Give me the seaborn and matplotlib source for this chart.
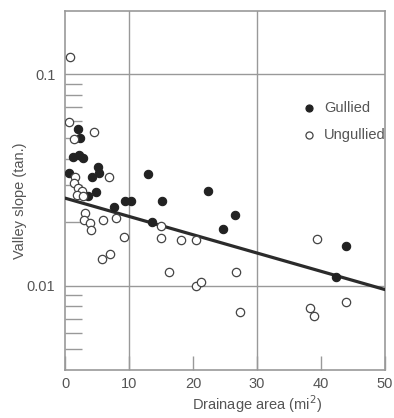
import numpy as np
import pandas as pd
import seaborn as sns
import matplotlib.pyplot as plt

# Valores (área de drenagem em mi², declividade do vale)
gullied_area = [2.0, 2.3, 1.25, 2.2, 2.8, 0.6, 5.2, 4.2, 5.3, 13.0, 3.6, 4.8,
                7.7, 9.4, 10.3, 15.2, 13.6, 22.3, 26.6, 24.7, 43.9, 42.3]
gullied_slope = [0.0555, 0.0499, 0.0407, 0.0416, 0.0403, 0.0343, 0.0366, 0.0328,
                 0.0343, 0.0339, 0.0265, 0.0277, 0.0236, 0.0251, 0.0251, 0.0251,
                 0.0200, 0.0280, 0.0216, 0.0186, 0.0155, 0.0110]

ungullied_area = [0.8, 0.6, 4.5, 1.4, 1.6, 6.9, 1.4, 2.0, 2.7, 1.9, 2.8, 3.1,
                  3.0, 3.9, 4.1, 5.9, 8.0, 9.2, 5.8, 7.0, 15.0, 15.0, 18.1,
                  20.5, 16.3, 20.5, 21.3, 26.7, 27.3, 39.4, 38.3, 38.9, 43.9]
ungullied_slope = [0.121, 0.0598, 0.0537, 0.0493, 0.0328, 0.0328, 0.0305, 0.0289,
                   0.0280, 0.0268, 0.0265, 0.0221, 0.0205, 0.0199, 0.0184, 0.0205,
                   0.0209, 0.0171, 0.0134, 0.0142, 0.0192, 0.0169, 0.0164, 0.0164,
                   0.0116, 0.0100, 0.0104, 0.0116, 0.00749, 0.0166, 0.00782,
                   0.00718, 0.00843]

# Reta de ajuste (extremos)
fit_area = [0, 50]
fit_slope = [0.026, 0.0096]

x_ticks = [0, 10, 20, 30, 40, 50]
x_grid = [10, 30]
y_ticks = [0.01, 0.1]
y_labels = ["0.01", "0.1"]
y_minor = [0.005, 0.006, 0.007, 0.008, 0.009,
           0.02, 0.03, 0.04, 0.05, 0.06, 0.07, 0.08, 0.09]

gully = pd.DataFrame({"area": gullied_area, "slope": gullied_slope})
ungully = pd.DataFrame({"area": ungullied_area, "slope": ungullied_slope})
fit = pd.DataFrame({"area": fit_area, "slope": fit_slope})

sns.set_style("white")
plt.rcParams["font.family"] = ["Liberation Sans", "DejaVu Sans"]

gray = "#999999"
text_c = "#555555"

fig = plt.figure(figsize=(3.94, 4.18), dpi=100)
ax = fig.add_axes([0.165, 0.115, 0.812, 0.859])
ax.set_yscale("log")

sns.lineplot(data=fit, x="area", y="slope", ax=ax, color="#2b2b2b", lw=2.3,
             zorder=3)
sns.scatterplot(data=gully, x="area", y="slope", ax=ax, s=36, color="#222222",
                edgecolor="#222222", linewidth=0.8, label="Gullied", zorder=4)
sns.scatterplot(data=ungully, x="area", y="slope", ax=ax, s=36,
                facecolor="white", edgecolor="#444444", linewidth=0.9,
                label="Ungullied", zorder=4)

ax.set_xlim(0, 50)
ax.set_ylim(0.004, 0.2)

# eixos e grade
ax.xaxis.remove_overlapping_locs = False
ax.set_xticks(x_ticks)
ax.set_xticks(x_grid, minor=True)
ax.set_yticks(y_ticks)
ax.set_yticklabels(y_labels)
ax.set_yticks(y_minor, minor=True)
ax.yaxis.set_minor_formatter(plt.NullFormatter())
ax.tick_params(axis="x", which="major", direction="in", length=10, width=1,
               color=gray, labelsize=10.5, labelcolor=text_c, pad=5,
               bottom=True)
ax.tick_params(axis="x", which="minor", length=0, bottom=True)
ax.tick_params(axis="y", which="major", direction="in", length=0,
               labelsize=10.5, labelcolor=text_c, pad=7, left=True)
ax.tick_params(axis="y", which="minor", direction="in", length=12, width=1,
               color=gray, left=True)
ax.grid(False)
ax.xaxis.grid(True, which="minor", color=gray, lw=1)
ax.yaxis.grid(True, which="major", color=gray, lw=1)
for sp in ax.spines.values():
    sp.set_color(gray)
    sp.set_linewidth(1.2)

ax.set_xlabel("Drainage area (mi$^2$)", fontsize=10.5, color=text_c)
ax.set_ylabel("Valley slope (tan.)", fontsize=10.5, color=text_c)
ax.xaxis.set_label_coords(0.6, -0.065)
ax.yaxis.set_label_coords(-0.12, 0.47)

ax.legend(loc="upper left", bbox_to_anchor=(0.675, 0.785), frameon=False,
          fontsize=10.5, handletextpad=0.05, labelspacing=0.85,
          markerscale=0.85, labelcolor=text_c)

plt.savefig("out.png", dpi=100)
